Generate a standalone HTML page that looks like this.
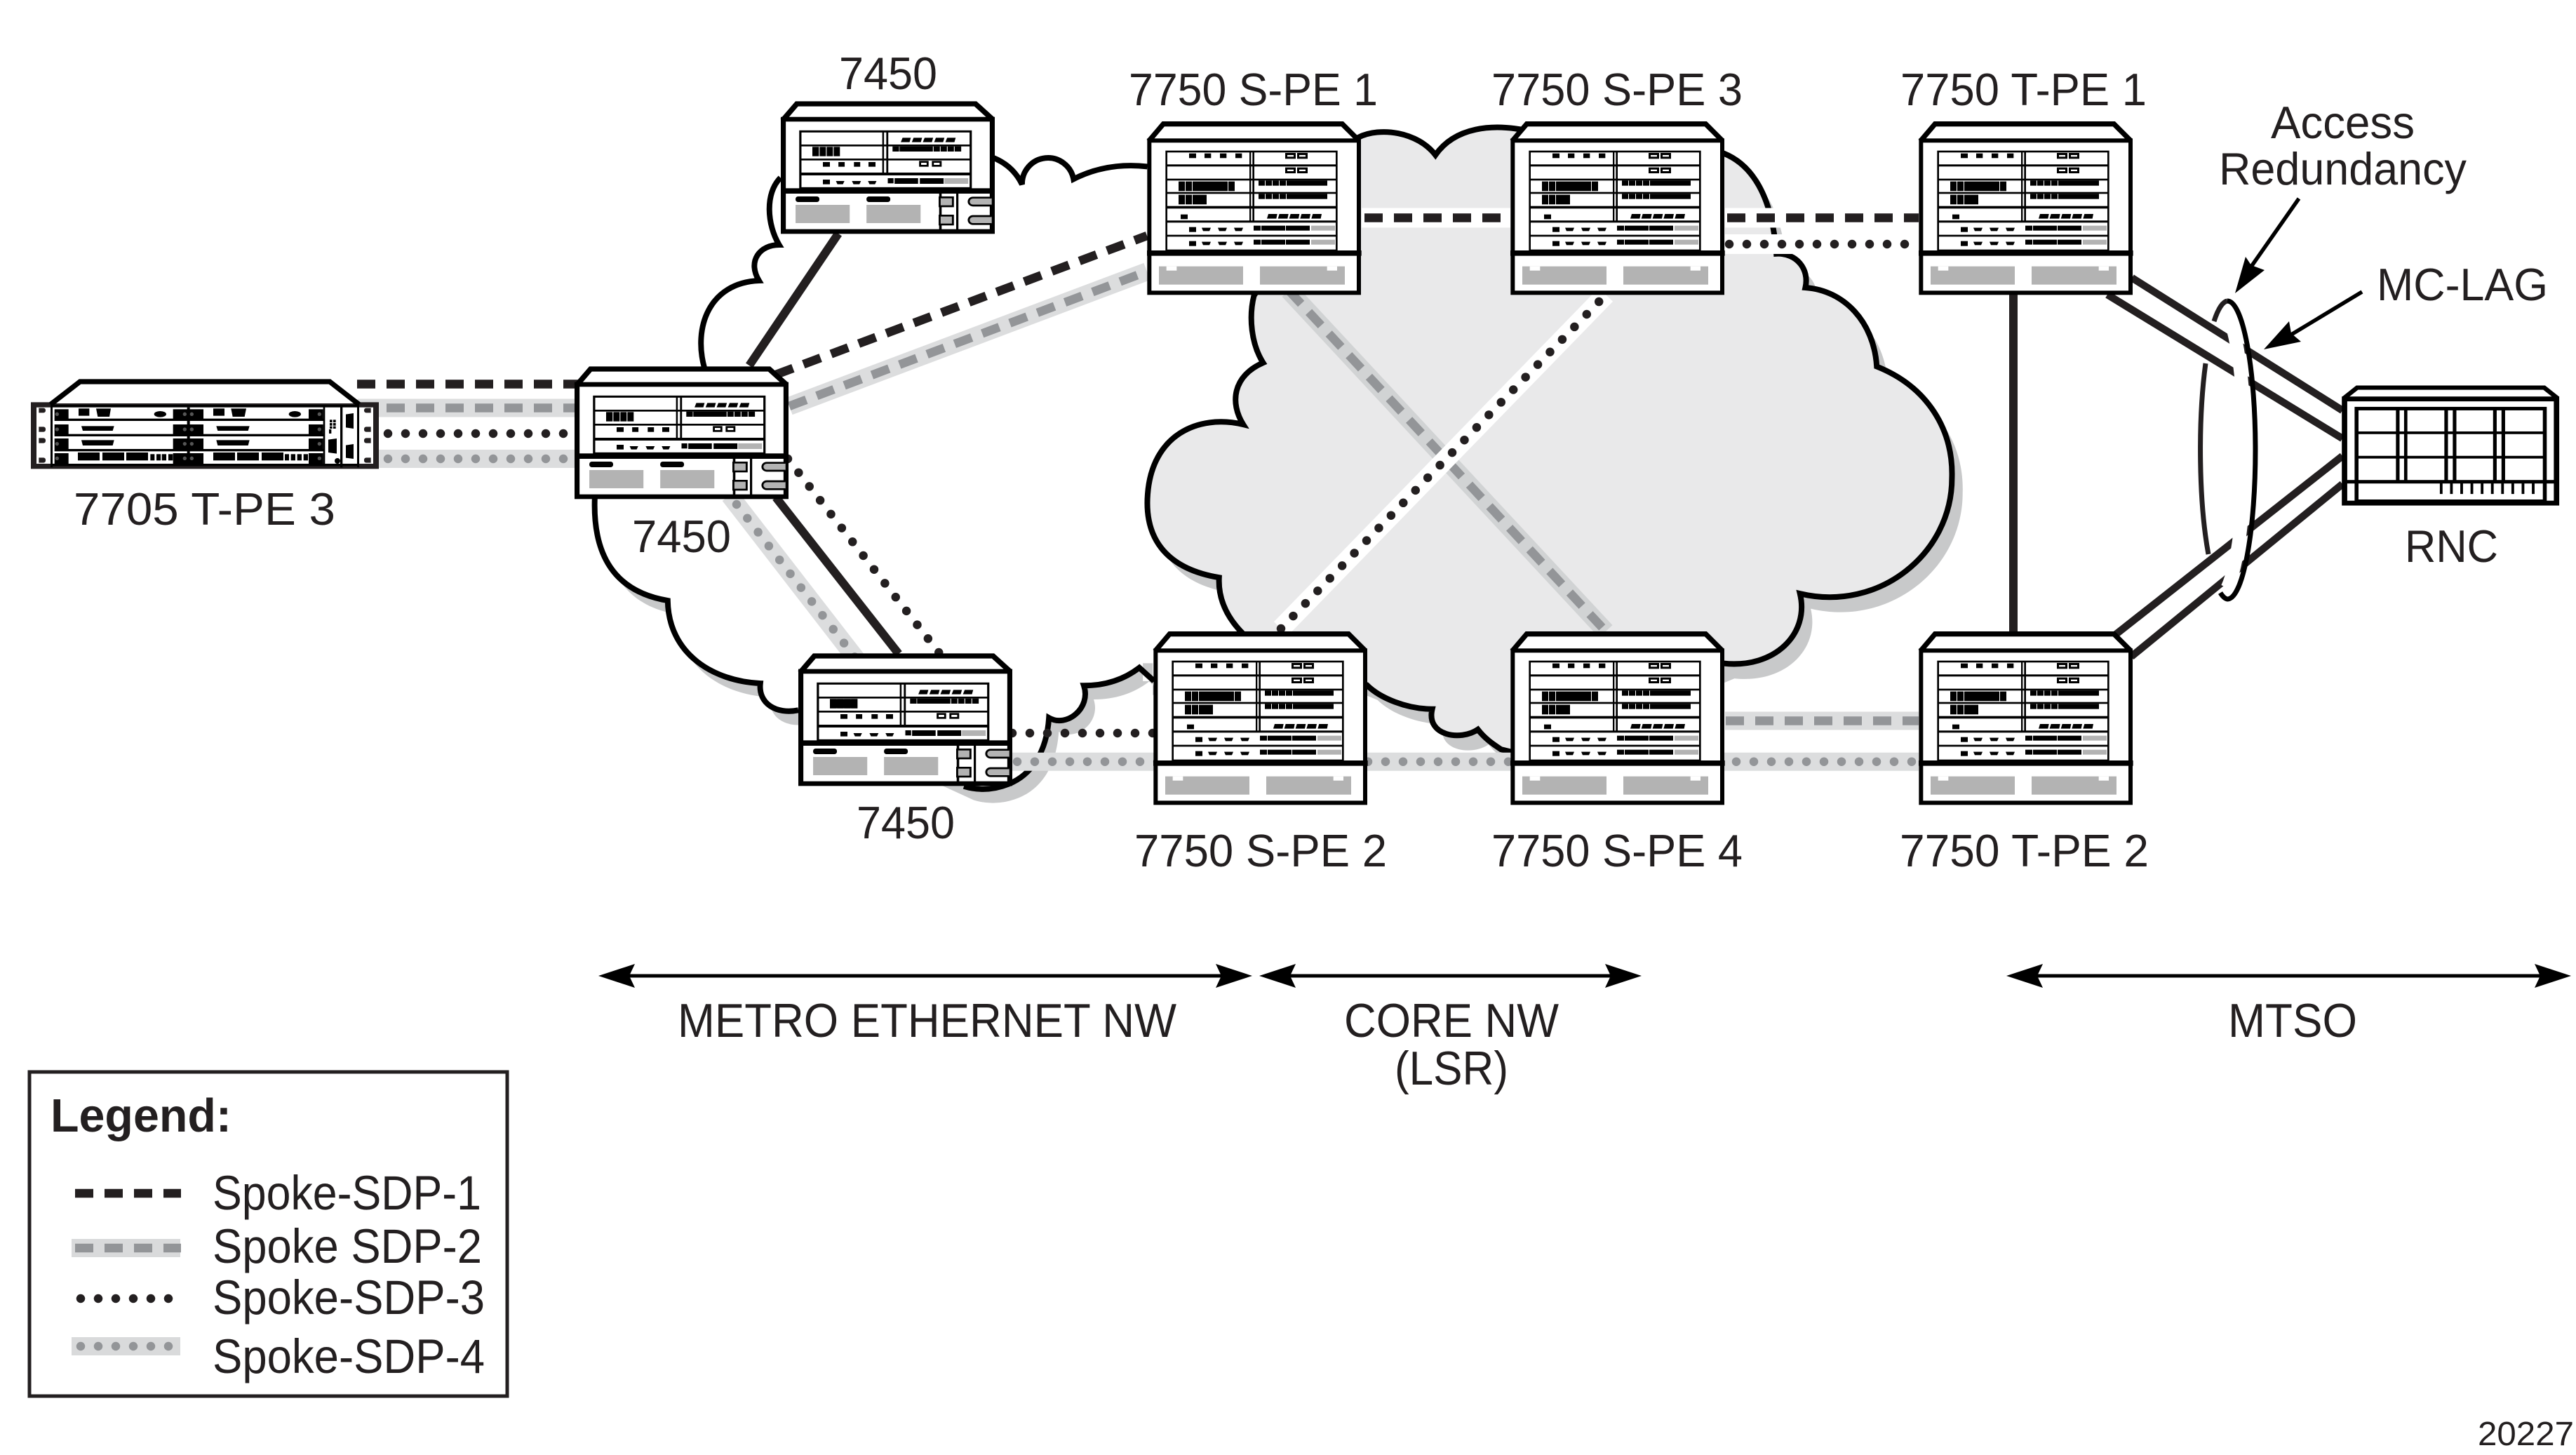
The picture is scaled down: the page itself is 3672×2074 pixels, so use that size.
<!DOCTYPE html>
<html><head><meta charset="utf-8"><title>Network diagram</title>
<style>
html,body{margin:0;padding:0;background:#fff}
svg{display:block}
text{font-family:"Liberation Sans",Arial,sans-serif;fill:#231f20;font-size:65px}
.d1{stroke:#231f20;stroke-width:12.5;stroke-dasharray:26 16;fill:none}
.d2{stroke:#939598;stroke-width:12.5;stroke-dasharray:26 16;fill:none}
.d3{stroke:#231f20;stroke-width:12.5;stroke-dasharray:0 25;stroke-linecap:round;fill:none}
.d4{stroke:#939598;stroke-width:12.5;stroke-dasharray:0 25;stroke-linecap:round;fill:none}
.bw{stroke:#fff;stroke-width:28;fill:none}
.bg{stroke:#dcddde;stroke-width:26;fill:none}
.bc{stroke:#d1d3d4;stroke-width:26;fill:none}
.s{stroke:#231f20;fill:none}
</style></head><body>
<svg xmlns="http://www.w3.org/2000/svg" width="3672" height="2074" viewBox="0 0 3672 2074">
<defs>
<!-- 7750 chassis, coordinates from 3x zoom -->
<g id="n7750">
 <polygon points="115,152 175,81 940,81 1011,152 1011,803 115,803" fill="#fff"/>
 <polyline points="112,155 175,81 940,81 1011,152" fill="none" stroke="#000" stroke-width="22"/>
 <rect x="115" y="152" width="896" height="651" fill="#fff" stroke="#000" stroke-width="18"/>
 <rect x="125" y="145" width="876" height="15" fill="#000"/>
 <rect x="105" y="622" width="917" height="23" fill="#000"/>
 <rect x="188" y="199" width="728" height="423" fill="#fff" stroke="#000" stroke-width="8"/>
 <g fill="#000">
  <rect x="188" y="254" width="728" height="9"/><rect x="188" y="315" width="728" height="8"/><rect x="188" y="372" width="728" height="8"/><rect x="188" y="432" width="728" height="11"/><rect x="188" y="494" width="728" height="9"/><rect x="188" y="555" width="728" height="8"/>
  <rect x="543" y="199" width="7" height="296"/><rect x="556" y="199" width="8" height="296"/>
  <rect x="285" y="207" width="30" height="20"/><rect x="351" y="207" width="28" height="20"/><rect x="417" y="207" width="28" height="20"/><rect x="483" y="207" width="28" height="20"/>
  <rect x="240" y="327" width="27" height="41"/><rect x="270" y="327" width="27" height="41"/><rect x="300" y="327" width="150" height="41"/><rect x="453" y="327" width="27" height="41"/>
  <rect x="240" y="384" width="27" height="41"/><rect x="270" y="384" width="27" height="41"/><rect x="300" y="384" width="60" height="41"/>
  <rect x="249" y="468" width="30" height="20"/>
  <rect x="696" y="205" width="45" height="25"/><rect x="747" y="205" width="45" height="25"/><rect x="696" y="267" width="45" height="25"/><rect x="747" y="267" width="45" height="25"/>
  <rect x="582" y="323" width="27" height="22"/><rect x="612" y="323" width="27" height="22"/><rect x="642" y="323" width="27" height="22"/><rect x="672" y="323" width="27" height="22"/><rect x="702" y="323" width="174" height="22"/>
  <rect x="582" y="380" width="27" height="22"/><rect x="612" y="380" width="27" height="22"/><rect x="642" y="380" width="27" height="22"/><rect x="672" y="380" width="27" height="22"/><rect x="702" y="380" width="174" height="22"/>
  <polygon points="624,466 662,466 658,486 618,486"/><polygon points="671,466 710,466 706,486 665,486"/><polygon points="719,466 757,466 753,486 713,486"/><polygon points="766,466 804,466 800,486 760,486"/><polygon points="814,466 852,466 848,486 808,486"/>
  <g id="r7750">
   <rect x="285" y="522" width="30" height="21"/>
   <polygon points="339,525 378,525 372,539 345,539"/><polygon points="408,525 447,525 441,539 414,539"/><polygon points="477,525 516,525 510,539 483,539"/>
   <rect x="561" y="516" width="30" height="21"/><rect x="594" y="516" width="102" height="21"/><rect x="699" y="516" width="102" height="21"/>
   <rect x="807" y="516" width="102" height="21" fill="#b3b3b3"/>
  </g>
  <use href="#r7750" y="60"/>
 </g>
 <g fill="#fff"><rect x="705" y="214" width="27" height="7"/><rect x="756" y="214" width="27" height="7"/><rect x="705" y="276" width="27" height="7"/><rect x="756" y="276" width="27" height="7"/></g>
 <rect x="156" y="690" width="360" height="78" fill="#b3b3b3"/><rect x="588" y="690" width="363" height="78" fill="#b3b3b3"/>
 <rect x="188" y="690" width="44" height="18" fill="#fff"/><rect x="875" y="690" width="43" height="18" fill="#fff"/>
</g>
<!-- 7450 chassis -->
<g id="n7450">
 <polygon points="157,152 212,84 925,84 992,152 992,630 157,630" fill="#fff"/>
 <polyline points="155,155 212,84 925,84 995,152" fill="none" stroke="#000" stroke-width="22"/>
 <rect x="158" y="150" width="834" height="480" fill="#fff" stroke="#000" stroke-width="20"/>
 <rect x="150" y="445" width="850" height="23" fill="#000"/>
 <rect x="226" y="202" width="680" height="243" fill="#fff" stroke="#000" stroke-width="9"/>
 <g fill="#000">
  <rect x="226" y="258" width="680" height="8"/><rect x="226" y="318" width="680" height="8"/><rect x="226" y="378" width="680" height="12"/>
  <rect x="553" y="202" width="7" height="178"/><rect x="569" y="202" width="8" height="178"/>
  <polygon points="634,229 667,229 662,248 627,248"/><polygon points="678,229 712,229 707,248 671,248"/><polygon points="722,229 756,229 751,248 715,248"/><polygon points="767,229 801,229 796,248 760,248"/><polygon points="812,229 846,229 841,248 805,248"/>
  <rect x="594" y="266" width="26" height="22"/><rect x="622" y="266" width="133" height="22"/><rect x="758" y="266" width="25" height="22"/><rect x="786" y="266" width="25" height="22"/><rect x="814" y="266" width="25" height="22"/><rect x="842" y="266" width="26" height="22"/>
  <rect x="274" y="268" width="26" height="40"/><rect x="303" y="268" width="25" height="40"/><rect x="331" y="268" width="25" height="40"/><rect x="359" y="268" width="25" height="40"/>
  <rect x="316" y="333" width="28" height="20"/><rect x="378" y="333" width="25" height="20"/><rect x="440" y="333" width="25" height="20"/><rect x="498" y="333" width="28" height="20"/>
  <rect x="700" y="328" width="38" height="25"/><rect x="751" y="328" width="39" height="25"/>
  <rect x="316" y="408" width="28" height="20"/>
  <polygon points="368,414 402,414 396,428 374,428"/><polygon points="432,414 468,414 462,428 438,428"/><polygon points="496,414 530,414 524,428 502,428"/>
  <rect x="575" y="402" width="23" height="22"/><rect x="602" y="402" width="94" height="24"/><rect x="703" y="402" width="95" height="24"/>
  <rect x="207" y="480" width="95" height="24" rx="10"/><rect x="490" y="480" width="95" height="24" rx="10"/>
  <rect x="780" y="468" width="10" height="155"/><rect x="848" y="468" width="9" height="155"/>
 </g>
 <g fill="#fff"><rect x="708" y="336" width="22" height="9"/><rect x="759" y="336" width="23" height="9"/></g>
 <rect x="801" y="402" width="95" height="24" fill="#b3b3b3"/>
 <rect x="207" y="516" width="216" height="78" fill="#b3b3b3"/><rect x="490" y="516" width="216" height="78" fill="#b3b3b3"/>
 <rect x="782" y="484" width="53" height="38" fill="#b3b3b3" stroke="#000" stroke-width="8"/>
 <rect x="782" y="562" width="53" height="38" fill="#b3b3b3" stroke="#000" stroke-width="8"/>
 <path d="M990,485 H915 A17,17 0 0 0 915,519 H990" fill="#b3b3b3" stroke="#000" stroke-width="8"/>
 <path d="M990,564 H915 A17,17 0 0 0 915,598 H990" fill="#b3b3b3" stroke="#000" stroke-width="8"/>
</g>
<!-- 7705 -->
<g id="n7705">
 <rect x="12" y="130" width="1488" height="285" fill="#231f20"/>
 <rect x="36" y="152" width="64" height="241" fill="#fff"/><rect x="1412" y="152" width="64" height="241" fill="#fff"/>
 <rect x="100" y="141" width="1312" height="252" fill="#fff"/>
 <polygon points="100,135 222,42 1290,42 1412,135" fill="#fff"/>
 <polyline points="96,140 222,42 1290,42 1416,140" fill="none" stroke="#000" stroke-width="22"/>
 <g fill="#000">
  <rect x="96" y="141" width="1320" height="11"/><rect x="96" y="130" width="9" height="278"/><rect x="1262" y="141" width="8" height="262"/><rect x="1335" y="141" width="10" height="268"/><rect x="1407" y="130" width="9" height="278"/>
  <rect x="680" y="152" width="12" height="241"/>
  <rect x="113" y="200" width="1150" height="10"/><rect x="113" y="266" width="1150" height="10"/><rect x="113" y="330" width="1150" height="10"/><rect x="96" y="393" width="1320" height="10"/>
  <rect x="113" y="160" width="60" height="43"/><rect x="113" y="225" width="60" height="43"/><rect x="113" y="285" width="60" height="45"/><rect x="113" y="348" width="60" height="45"/>
  <rect x="620" y="160" width="130" height="43"/><rect x="620" y="225" width="130" height="43"/><rect x="620" y="285" width="130" height="45"/><rect x="620" y="348" width="130" height="45"/>
  <rect x="1200" y="160" width="62" height="43"/><rect x="1200" y="225" width="62" height="43"/><rect x="1200" y="285" width="62" height="45"/><rect x="1200" y="348" width="62" height="45"/>
  <rect x="216" y="157" width="46" height="31"/><polygon points="291,157 354,157 348,192 298,192"/><ellipse cx="565" cy="181" rx="26" ry="13"/>
  <rect x="792" y="157" width="48" height="31"/><polygon points="868,157 933,157 926,192 875,192"/><ellipse cx="1141" cy="181" rx="26" ry="13"/>
  <polygon points="228,232 368,232 362,252 234,252"/><polygon points="805,232 947,232 941,252 811,252"/>
  <polygon points="228,292 368,292 362,315 234,315"/><polygon points="805,292 947,292 941,315 811,315"/>
  <rect x="213" y="345" width="93" height="34"/><rect x="318" y="345" width="93" height="34"/><rect x="420" y="345" width="93" height="34"/><rect x="523" y="352" width="18" height="27"/><rect x="549" y="352" width="18" height="27"/><rect x="572" y="352" width="19" height="27"/><rect x="600" y="352" width="19" height="27"/>
  <rect x="792" y="345" width="93" height="34"/><rect x="894" y="345" width="93" height="34"/><rect x="999" y="345" width="93" height="34"/><rect x="1098" y="352" width="18" height="27"/><rect x="1124" y="352" width="19" height="27"/><rect x="1151" y="352" width="19" height="27"/><rect x="1178" y="352" width="19" height="27"/>
  <rect x="1290" y="205" width="11" height="11"/><rect x="1305" y="205" width="11" height="11"/><rect x="1290" y="219" width="11" height="11"/><rect x="1305" y="219" width="11" height="11"/><rect x="1290" y="233" width="11" height="10"/><rect x="1305" y="233" width="11" height="10"/><rect x="1287" y="246" width="10" height="18"/>
  <polygon points="1284,290 1320,285 1320,350 1284,345"/><circle cx="1323" cy="381" r="12"/>
  <polygon points="1359,182 1392,177 1392,243 1359,238"/><polygon points="1359,314 1392,309 1392,372 1359,368"/>
 </g>
 <g fill="#231f20">
  <rect x="36" y="155" width="39" height="20" rx="9"/><rect x="36" y="235" width="39" height="22" rx="9"/><rect x="36" y="283" width="39" height="22" rx="9"/><rect x="36" y="367" width="39" height="22" rx="9"/>
  <rect x="1437" y="155" width="39" height="20" rx="9"/><rect x="1437" y="235" width="39" height="22" rx="9"/><rect x="1437" y="283" width="39" height="22" rx="9"/><rect x="1437" y="367" width="39" height="22" rx="9"/>
 </g>
 <rect x="36" y="155" width="10" height="234" fill="#fff"/><rect x="1466" y="155" width="10" height="234" fill="#fff"/>
 <g fill="#555"><circle cx="124" cy="181" r="8"/><circle cx="124" cy="246" r="8"/><circle cx="124" cy="308" r="8"/><circle cx="124" cy="370" r="8"/><circle cx="670" cy="181" r="8"/><circle cx="700" cy="181" r="8"/><circle cx="670" cy="246" r="8"/><circle cx="700" cy="246" r="8"/><circle cx="670" cy="308" r="8"/><circle cx="700" cy="308" r="8"/><circle cx="670" cy="370" r="8"/><circle cx="700" cy="370" r="8"/><circle cx="1246" cy="181" r="8"/><circle cx="1246" cy="246" r="8"/><circle cx="1246" cy="308" r="8"/><circle cx="1246" cy="370" r="8"/></g>
</g>
<!-- RNC -->
<g id="rnc">
 <polygon points="798,700 840,657 1462,657 1503,700 1503,1090 798,1090" fill="#fff"/>
 <polyline points="795,700 840,660 1462,660 1507,700" fill="none" stroke="#000" stroke-width="16"/>
 <rect x="798" y="702" width="705" height="388" fill="#fff" stroke="#000" stroke-width="18"/>
 <rect x="838" y="738" width="626" height="345" fill="none" stroke="#000" stroke-width="13"/>
 <g fill="#000">
  <rect x="969" y="738" width="12" height="272"/><rect x="996" y="738" width="11" height="272"/><rect x="1130" y="738" width="12" height="272"/><rect x="1158" y="738" width="12" height="272"/><rect x="1292" y="738" width="12" height="272"/><rect x="1320" y="738" width="12" height="272"/>
  <rect x="838" y="823" width="626" height="10"/><rect x="838" y="914" width="626" height="10"/>
  <rect x="798" y="1004" width="705" height="13"/>
  <rect x="1115" y="1016" width="9" height="40"/><rect x="1149" y="1016" width="9" height="40"/><rect x="1183" y="1016" width="9" height="40"/><rect x="1217" y="1016" width="9" height="40"/><rect x="1251" y="1016" width="9" height="40"/><rect x="1285" y="1016" width="9" height="40"/><rect x="1319" y="1016" width="9" height="40"/><rect x="1353" y="1016" width="9" height="40"/><rect x="1387" y="1016" width="9" height="40"/><rect x="1421" y="1016" width="9" height="40"/>
 </g>
</g>
<path id="metro" d="M965,70 Q1010,88 1030,130 A58,58 0 0 1 1145,118 Q1220,80 1310,90 L1300,100 L1300,1240 L1325,1240 L1292,1210 Q1240,1250 1168,1250 C1185,1300 1130,1345 1090,1322 C1085,1400 1050,1450 1000,1470 Q950,1490 900,1475 L530,1305 C480,1315 440,1290 445,1245 C340,1240 240,1180 238,1060 C120,1040 70,960 75,830 L320,540 C295,450 330,350 442,345 C415,300 445,265 487,265 C460,220 455,150 490,115 Z"/>
<path id="core" d="M440,125 C480,105 550,115 583,158 C620,105 690,100 750,112 L1120,155 C1170,175 1210,230 1218,342 C1255,340 1280,370 1272,405 C1345,410 1400,470 1405,552 C1500,590 1548,670 1545,760 C1545,900 1410,1010 1262,975 C1280,1050 1215,1115 1120,1105 L725,1270 L705,1265 C690,1255 675,1245 662,1228 C630,1250 565,1240 577,1190 C530,1190 480,1170 455,1145 L225,1050 C195,1020 178,985 180,945 C90,930 40,880 47,790 C55,680 140,640 225,660 C200,620 205,570 262,545 C240,510 235,460 245,420 Z"/>
</defs>

<!-- metro cloud -->
<g transform="translate(800,180) scale(.6378)">
 <use href="#metro" x="22" y="31" fill="#c8c9ca"/>
 <use href="#metro" fill="#fff"/>
 <rect x="1200" y="100" width="240" height="1100" fill="#fff"/>
 <path fill="none" stroke="#000" stroke-width="12.5" stroke-linejoin="miter" d="M965,70 Q1010,88 1030,130 A58,58 0 0 1 1145,118 Q1220,80 1310,90 M1325,1240 L1292,1210 Q1240,1250 1168,1250 C1185,1300 1130,1345 1090,1322 C1085,1400 1050,1450 1000,1470 Q950,1490 900,1475 M530,1305 C480,1315 440,1290 445,1245 C340,1240 240,1180 238,1060 C120,1040 70,960 75,830 M320,540 C295,450 330,350 442,345 C415,300 445,265 487,265 C460,220 455,150 490,115"/>
</g>
<!-- core cloud -->
<g transform="translate(1600,100) scale(.7653)">
 <use href="#core" x="20" y="28" fill="#c8c9ca"/>
 <use href="#core" fill="#e9e9ea" stroke="#000" stroke-width="10.5"/>
</g>

<!-- solid links -->
<path class="s" stroke-width="12" d="M1068,521 L1195,333"/>
<path class="s" stroke-width="12" d="M1106,709 L1281,932"/>
<path class="s" stroke-width="12" d="M2870,420 V905"/>

<!-- 7705 to mid 7450 -->
<path class="d1" d="M509,547.5 H830"/>
<path class="bg" d="M510,581.5 H830"/><path class="d2" d="M509,581.5 H830" stroke-dashoffset="0"/>
<path class="d3" d="M553,618 H825"/>
<path class="bg" d="M530,654 H830"/><path class="d4" d="M553,654 H825"/>
<!-- mid 7450 to S-PE1 -->
<path class="d1" d="M1106,534 L1635,336"/>
<path class="bg" d="M1125,579 L1635,387"/><path class="d2" d="M1125,579 L1635,387"/>
<!-- mid 7450 to bottom 7450 -->
<path class="bg" d="M1040,706 L1225,945"/><path class="d4" d="M1050,719 L1225,945"/>
<path class="d3" d="M1123,654 L1339,931"/>
<!-- core -->
<path class="bc" d="M1837,414 L2289,900"/><path class="d2" d="M1837,414 L2289,900"/>
<path class="bw" d="M1826,896 L2289,420"/><path class="d3" d="M1826,896 L2289,420"/>
<path class="bw" d="M1941,310.5 H2153"/><path class="d1" d="M1945,310.5 H2153"/>
<path class="bw" d="M2459,310.5 H2735"/><path class="d1" d="M2462,310.5 H2735"/>
<path class="bw" d="M2459,348 H2735"/><path class="d3" d="M2465,348 H2735"/>
<!-- bottom row -->
<path class="d3" d="M1443,1045 H1644"/>
<path class="bg" d="M1443,1085.7 H2735"/><path class="d4" d="M1450,1085.7 H2735"/>
<path class="bg" d="M2459,1027.5 H2735"/><path class="d2" d="M2460,1027.5 H2735"/>

<!-- access links -->
<path class="s" stroke-width="7" d="M3156,458 A40,212.5 0 0 1 3175,429"/>
<path class="s" stroke-width="7" d="M3144,518 A40,212.5 0 0 0 3148,790"/>
<g stroke="#231f20" stroke-width="10.5" fill="none">
 <path d="M3039,396 L3339,585"/><path d="M3004,420 L3339,625"/>
 <path d="M3339,650 L3015,905"/><path d="M3339,690 L3038,936"/>
</g>
<path fill="none" stroke="#fff" stroke-width="19" d="M3175,445 A40,212.5 0 0 1 3175,838"/>
<path fill="none" stroke="#000" stroke-width="7" d="M3175,429 A40,212.5 0 0 1 3175,854 Q3170,853 3165,845"/>

<!-- nodes -->
<g transform="translate(44,530)"><g transform="translate(-4,0) scale(.33333)"><use href="#n7705"/></g></g>
<g transform="translate(1113,144) scale(.35714,.33333) translate(-148,-72)"><use href="#n7450"/></g>
<g transform="translate(819,522) scale(.35714,.33333) translate(-148,-72)"><use href="#n7450"/></g>
<g transform="translate(1138,931) scale(.35714,.33333) translate(-148,-72)"><use href="#n7450"/><rect x="274" y="268" width="110" height="40" fill="#000"/></g>
<g transform="translate(1635,173) scale(.33333) translate(-105,-70)"><use href="#n7750"/></g>
<g transform="translate(2153,173) scale(.33333) translate(-105,-70)"><use href="#n7750"/></g>
<g transform="translate(2735,173) scale(.33333) translate(-105,-70)"><use href="#n7750"/></g>
<g transform="translate(1644,900) scale(.33333) translate(-105,-70)"><use href="#n7750"/></g>
<g transform="translate(2153,900) scale(.33333) translate(-105,-70)"><use href="#n7750"/></g>
<g transform="translate(2735,900) scale(.33333) translate(-105,-70)"><use href="#n7750"/></g>
<g transform="translate(3000,300) scale(.42863,.3827)"><use href="#rnc"/></g>

<!-- callout arrows -->
<path d="M3277,283 L3209,380" stroke="#000" stroke-width="5.5" fill="none"/>
<polygon points="3186,418 3201,366 3209,378 3228,385" fill="#000"/>
<path d="M3367,416 L3266,477" stroke="#000" stroke-width="5.5" fill="none"/>
<polygon points="3227,498 3263,458 3266,475 3280,487" fill="#000"/>

<!-- span arrows -->
<g fill="#000">
 <rect x="880" y="1388.5" width="880" height="5"/>
 <polygon points="853,1391 905,1374 897,1391 905,1408"/><polygon points="1785,1391 1733,1374 1741,1391 1733,1408"/>
 <rect x="1822" y="1388.5" width="492" height="5"/>
 <polygon points="1795,1391 1847,1374 1839,1391 1847,1408"/><polygon points="2340,1391 2288,1374 2296,1391 2288,1408"/>
 <rect x="2888" y="1388.5" width="752" height="5"/>
 <polygon points="2860,1391 2912,1374 2904,1391 2912,1408"/><polygon points="3665,1391 3613,1374 3621,1391 3613,1408"/>
</g>

<!-- labels -->
<text x="1609" y="150" textLength="355" lengthAdjust="spacingAndGlyphs">7750 S-PE 1</text>
<text x="2126" y="150" textLength="358" lengthAdjust="spacingAndGlyphs">7750 S-PE 3</text>
<text x="2709" y="150" textLength="351" lengthAdjust="spacingAndGlyphs">7750 T-PE 1</text>
<text x="1617" y="1235" textLength="360" lengthAdjust="spacingAndGlyphs">7750 S-PE 2</text>
<text x="2126" y="1235" textLength="358" lengthAdjust="spacingAndGlyphs">7750 S-PE 4</text>
<text x="2708" y="1235" textLength="355" lengthAdjust="spacingAndGlyphs">7750 T-PE 2</text>
<text x="1196" y="127" textLength="140" lengthAdjust="spacingAndGlyphs">7450</text>
<text x="901" y="787" textLength="141" lengthAdjust="spacingAndGlyphs">7450</text>
<text x="1221" y="1195" textLength="140" lengthAdjust="spacingAndGlyphs">7450</text>
<text x="105" y="748" textLength="373" lengthAdjust="spacingAndGlyphs">7705 T-PE 3</text>
<text x="966" y="1478" style="font-size:68px" textLength="711" lengthAdjust="spacingAndGlyphs">METRO ETHERNET NW</text>
<text x="1916" y="1478" style="font-size:68px" textLength="306" lengthAdjust="spacingAndGlyphs">CORE NW</text>
<text x="1988" y="1546" style="font-size:68px" textLength="162" lengthAdjust="spacingAndGlyphs">(LSR)</text>
<text x="3176" y="1478" style="font-size:68px" textLength="184" lengthAdjust="spacingAndGlyphs">MTSO</text>
<text x="3237" y="197" textLength="205" lengthAdjust="spacingAndGlyphs">Access</text>
<text x="3163" y="263" textLength="353" lengthAdjust="spacingAndGlyphs">Redundancy</text>
<text x="3388" y="428" textLength="244" lengthAdjust="spacingAndGlyphs">MC-LAG</text>
<text x="3428" y="801" textLength="133" lengthAdjust="spacingAndGlyphs">RNC</text>
<text x="3532" y="2060" style="font-size:48px" textLength="137" lengthAdjust="spacingAndGlyphs">20227</text>

<!-- legend -->
<rect x="42" y="1528" width="681" height="462" fill="none" stroke="#231f20" stroke-width="5"/>
<text x="72" y="1613" style="font-size:67px;font-weight:bold" textLength="258" lengthAdjust="spacingAndGlyphs">Legend:</text>
<path class="d1" d="M107,1701 H258"/>
<path d="M102,1779 H257" stroke="#d9dadb" stroke-width="26" fill="none"/><path class="d2" d="M107,1779 H258"/>
<path class="d3" d="M115,1851 H242"/>
<path d="M102,1919 H257" stroke="#d9dadb" stroke-width="26" fill="none"/><path class="d4" d="M115,1919 H242"/>
<text x="303" y="1724" style="font-size:69px" textLength="383" lengthAdjust="spacingAndGlyphs">Spoke-SDP-1</text>
<text x="303" y="1800" style="font-size:69px" textLength="384" lengthAdjust="spacingAndGlyphs">Spoke SDP-2</text>
<text x="303" y="1873" style="font-size:69px" textLength="388" lengthAdjust="spacingAndGlyphs">Spoke-SDP-3</text>
<text x="303" y="1957" style="font-size:69px" textLength="388" lengthAdjust="spacingAndGlyphs">Spoke-SDP-4</text>
</svg>
</body></html>
